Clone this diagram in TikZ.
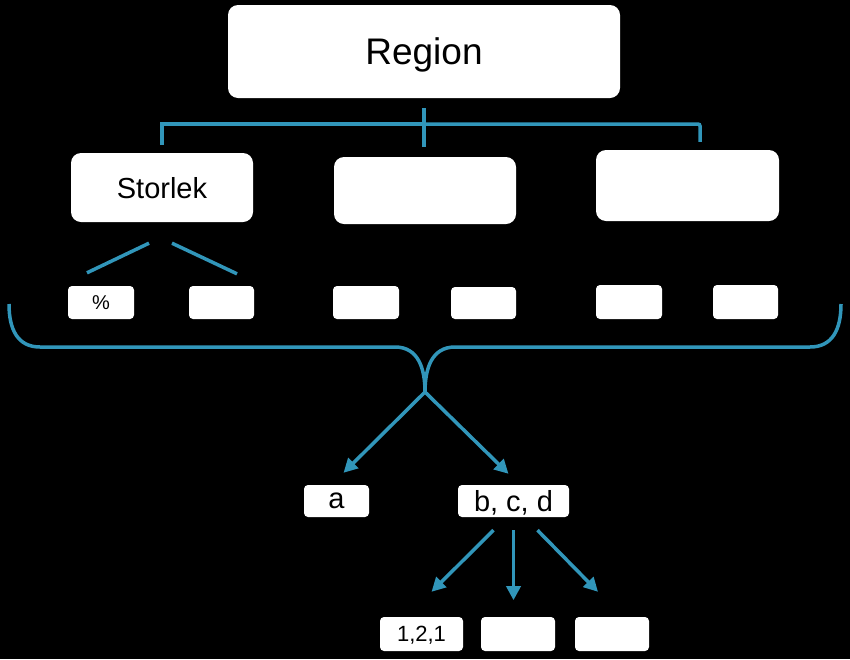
\documentclass[tikz,border=0pt]{standalone}
\usepackage{fontspec}
\setmainfont{Liberation Sans}
\usepackage{xcolor}
\usetikzlibrary{calc}
\usetikzlibrary{arrows.meta}
\usetikzlibrary{positioning}

\definecolor{linkblue}{RGB}{49,150,186}

\tikzset{
  bigbox/.style={fill=white, rounded corners=10pt, inner sep=0pt, text depth=0pt},
  smallbox/.style={fill=white, rounded corners=4pt, inner sep=0pt, text depth=0pt},
  conn/.style={draw=linkblue, line width=3.5pt},
  arr/.style={conn, -{Triangle[length=14pt,width=14pt]}},
}

\begin{document}
\begin{tikzpicture}[x=1pt,y=1pt,yscale=-1,xscale=1]
\fill[black] (0,0) rectangle (850,659); %background, sets the page to 850 x 659

%Shape: Rectangle (top)
\node[bigbox, minimum width=392pt, minimum height=93pt, font=\fontsize{37}{40}\selectfont] (region) at (424,51.5) {Region};
%Shape: Rectangle (second row)
\node[bigbox, minimum width=182pt, minimum height=69pt, font=\fontsize{29}{32}\selectfont] (size) at (162,187.5) {Storlek};
\node[bigbox, minimum width=182pt, minimum height=67pt] (mid) at (425,190.5) {};
\node[bigbox, minimum width=183pt, minimum height=71pt] (right) at (687.5,185.5) {};

%Shape: Rectangle (third row)
\node[smallbox, minimum width=66pt, minimum height=33pt, font=\fontsize{20}{22}\selectfont] (pct) at (101,302.5) {\%};
\node[smallbox, minimum width=65pt, minimum height=33pt] (sa) at (221.5,302.5) {};
\node[smallbox, minimum width=66pt, minimum height=33pt] (sb) at (366,302.5) {};
\node[smallbox, minimum width=65pt, minimum height=32pt] (sc) at (483.5,303) {};
\node[smallbox, minimum width=66pt, minimum height=34pt] (sd) at (629,302) {};
\node[smallbox, minimum width=65pt, minimum height=34pt] (se) at (745.5,302) {};

%Shape: Rectangle (fourth row)
\node[smallbox, minimum width=65pt, minimum height=32pt, font=\fontsize{29}{32}\selectfont] (a) at (336.5,501) {a};
\node[smallbox, minimum width=111pt, minimum height=32pt, font=\fontsize{29}{32}\selectfont] (bcd) at (513.5,501) {b, c, d};

%Shape: Rectangle (bottom row)
\node[smallbox, minimum width=83pt, minimum height=34pt, font=\fontsize{22}{24}\selectfont] (one) at (421.5,634) {1,2,1};
\node[smallbox, minimum width=74pt, minimum height=34pt] (two) at (518,634) {};
\node[smallbox, minimum width=74pt, minimum height=34pt] (three) at (612,634) {};

%Straight Lines (bar under the top box)
\coordinate (bar) at (424,124);
\draw[conn] ($(region.south)+(0,10)$) -- ($(region.south |- mid.north)+(0,-10)$);
\draw[conn] ($(size.north)+(0,-8)$) -- (size.north |- bar);
\draw[conn] ($(size.north |- bar)+(-2,0)$) -- (bar);
\draw[conn, rounded corners=2pt] (bar) -- ($(right.north |- bar)+(12.5,0)$) -- ($(right.north)+(12.5,-8)$);

%Straight Lines (under Storlek)
\draw[conn] ($(size.south)+(-13,21)$) -- ($(pct.north)+(-14,-13)$);
\draw[conn] ($(size.south)+(10,21)$) -- ($(sa.north)+(15.5,-12)$);

%Curve Lines (brace)
\coordinate (split) at (425,392);
\draw[conn] (9,304) .. controls (9,330) and (18,347) .. (40,347) -- (395,347) .. controls (418,347) and (425,368) .. (split);
\draw[conn] (841,304) .. controls (841,330) and (832,347) .. (810,347) -- (455,347) .. controls (432,347) and (425,368) .. (split);

%Straight Lines (arrows)
\draw[arr] (split) -- ($(a.north)+(7,-12)$);
\draw[arr] (split) -- ($(bcd.north)+(-5,-11)$);
\draw[arr] ($(bcd.south)+(-20,13)$) -- ($(one.north)+(10,-25)$);
\draw[arr] ($(bcd.south)+(0,13)$) -- ($(bcd.south)+(0,83)$);
\draw[arr] ($(bcd.south)+(24,13)$) -- ($(three.north)+(-14,-25)$);

\end{tikzpicture}
\end{document}
